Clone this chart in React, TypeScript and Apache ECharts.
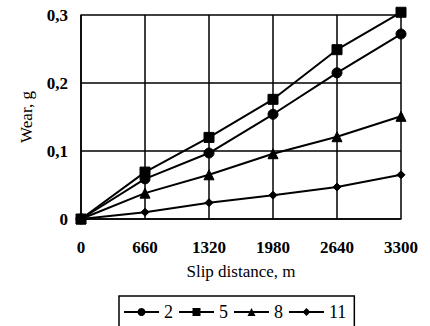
import React, { useEffect, useRef } from "react";
import * as echarts from "echarts";

const distances = [0, 660, 1320, 1980, 2640, 3300];
const seriesNames = ["2", "5", "8", "11"];
const wear2 = [0, 0.059, 0.097, 0.154, 0.215, 0.272];
const wear5 = [0, 0.069, 0.12, 0.176, 0.249, 0.304];
const wear8 = [0, 0.038, 0.065, 0.096, 0.121, 0.151];
const wear11 = [0, 0.01, 0.024, 0.035, 0.047, 0.065];
const yTickLabels = ["0", "0,1", "0,2", "0,3"];
const xTickLabels = ["0", "660", "1320", "1980", "2640", "3300"];

const FONT = "'Liberation Serif', 'Times New Roman', serif";

export default function App() {
  const ref = useRef<HTMLDivElement>(null);
  useEffect(() => {
    if (!ref.current) return;
    const chart = echarts.init(ref.current, null, { renderer: "svg" });
    const pairs = (ys: number[]) => distances.map((d, i) => [d, ys[i]]);
    const symbols = ["circle", "rect", "triangle", "diamond"];
    const sizes = [10, 10, 10, 8];
    const all = [wear2, wear5, wear8, wear11];
    chart.setOption({
      animation: false,
      backgroundColor: "#fff",
      grid: { left: 81, right: 29, top: 15, bottom: 107 },
      legend: {
        left: 119,
        top: 296,
        padding: [7, 8, 6, 4],
        itemWidth: 35,
        itemHeight: 10,
        itemGap: 5,
        borderColor: "#000",
        borderWidth: 1.5,
        borderRadius: 0,
        data: seriesNames,
        textStyle: { fontFamily: FONT, fontSize: 18, color: "#000" },
      },
      xAxis: {
        type: "value",
        min: 0,
        max: 3300,
        interval: 660,
        name: "Slip distance, m",
        nameLocation: "middle",
        nameGap: 44,
        nameTextStyle: { fontFamily: FONT, fontSize: 17, color: "#000" },
        axisLine: { lineStyle: { color: "#000", width: 1.5 } },
        axisTick: { show: false },
        splitLine: { show: true, lineStyle: { color: "#000", width: 1.5 } },
        axisLabel: {
          margin: 20,
          fontFamily: FONT,
          fontSize: 17,
          fontWeight: "bold",
          color: "#000",
          formatter: (v: number) => {
            const i = distances.indexOf(v);
            return i >= 0 ? xTickLabels[i] : "";
          },
        },
      },
      yAxis: {
        type: "value",
        min: 0,
        max: 0.3,
        interval: 0.1,
        name: "Wear, g",
        nameLocation: "middle",
        nameGap: 46,
        nameTextStyle: { fontFamily: FONT, fontSize: 17, color: "#000" },
        axisLine: { show: true, lineStyle: { color: "#000", width: 1.5 } },
        axisTick: { show: false },
        splitLine: { show: true, lineStyle: { color: "#000", width: 1.5 } },
        axisLabel: {
          margin: 13,
          fontFamily: FONT,
          fontSize: 17,
          fontWeight: "bold",
          color: "#000",
          formatter: (v: number) => yTickLabels[Math.round(v * 10)] ?? "",
        },
      },
      series: all.map((ys, i) => ({
        name: seriesNames[i],
        type: "line",
        data: pairs(ys),
        symbol: symbols[i],
        symbolSize: sizes[i],
        showSymbol: true,
        clip: false,
        z: i === 1 ? 5 : 3,
        lineStyle: { color: "#000", width: 2 },
        itemStyle: { color: "#000", borderColor: "#000" },
      })),
    });
    return () => chart.dispose();
  }, []);
  return (
    <div
      ref={ref}
      style={{ position: "fixed", left: 0, top: 0, width: 430, height: 326 }}
    />
  );
}
